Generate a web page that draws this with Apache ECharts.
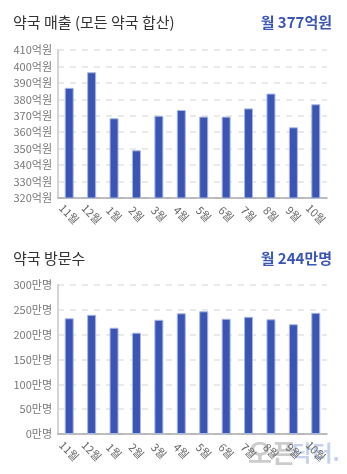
<!DOCTYPE html>
<html><head><meta charset="utf-8">
<script src="https://cdn.jsdelivr.net/npm/echarts@6/dist/echarts.min.js"></script>
<style>html,body{margin:0;padding:0;background:#fff}#c{width:347px;height:474px}</style>
</head><body><div id="c"></div>
<script>
const months = ['11월','12월','1월','2월','3월','4월','5월','6월','7월','8월','9월','10월'];
const salesValues = [387, 396.5, 368.5, 349, 370, 373.5, 369.5, 369.5, 374.5, 383.5, 363, 377];
const visitValues = [233, 240, 214, 204, 230, 243, 247, 232, 236, 231, 221, 244];
const salesTitle = '약국 매출 (모든 약국 합산)';
const salesSummary = '월 377억원';
const visitTitle = '약국 방문수';
const visitSummary = '월 244만명';
const salesTicks = {min: 320, max: 410, interval: 10, suffix: '억원'};
const visitTicks = {min: 0, max: 300, interval: 50, suffix: '만명'};

const FONT = '"Noto Sans CJK KR", "Noto Sans", sans-serif';
const BLUE = '#3a55b4';
const chart = echarts.init(document.getElementById('c'), null, {renderer: 'canvas'});

function yAxis(i, t) {
  return {
    type: 'value', gridIndex: i, min: t.min, max: t.max, interval: t.interval,
    axisLine: {show: true, lineStyle: {color: '#d4d4d4', width: 2}},
    axisTick: {show: false},
    axisLabel: {color: '#777', fontSize: 11, fontFamily: FONT, margin: 6,
      formatter: v => v + t.suffix},
    splitLine: {lineStyle: {color: '#e2e2e2', type: [6, 6], width: 1.5}}
  };
}
function xAxis(i, m) {
  return {
    type: 'category', gridIndex: i, data: months,
    axisLine: {lineStyle: {color: '#aaa', width: 1.5}},
    axisTick: {show: false},
    axisLabel: {color: '#666', fontSize: 11, fontFamily: FONT, rotate: -45,
      align: 'center', verticalAlign: 'middle', margin: m, interval: 0}
  };
}
function series(i, data) {
  return {
    type: 'bar', xAxisIndex: i, yAxisIndex: i, data: data, barWidth: 9,
    itemStyle: {color: BLUE, borderColor: '#a9b7e3', borderWidth: 1},
    silent: true, animation: false
  };
}

chart.setOption({
  animation: false,
  grid: [
    {left: 58, right: 20, top: 50, bottom: 276},
    {left: 58, right: 20, top: 285, bottom: 40}
  ],
  title: [
    {text: salesTitle, left: 8, top: 10, textStyle: {fontSize: 15, fontWeight: 'normal', color: '#333', fontFamily: FONT}},
    {text: salesSummary, right: 10, top: 10, textStyle: {fontSize: 15, fontWeight: 'bold', color: BLUE, fontFamily: FONT}},
    {text: visitTitle, left: 8, top: 246, textStyle: {fontSize: 15, fontWeight: 'normal', color: '#333', fontFamily: FONT}},
    {text: visitSummary, right: 10, top: 246, textStyle: {fontSize: 15, fontWeight: 'bold', color: BLUE, fontFamily: FONT}}
  ],
  xAxis: [xAxis(0, 16), xAxis(1, 17)],
  yAxis: [yAxis(0, salesTicks), yAxis(1, visitTicks)],
  series: [series(0, salesValues), series(1, visitValues)],
  graphic: [
    {type: 'text', left: 248, top: 440, silent: true,
      style: {text: '오픈', fill: 'rgba(170,170,170,0.6)', font: 'bold 26px ' + FONT}},
    {type: 'text', left: 292, top: 442, silent: true,
      style: {text: '닥터.', fill: 'rgba(160,180,225,0.6)', font: 'bold 22px ' + FONT}}
  ]
});
</script></body></html>
